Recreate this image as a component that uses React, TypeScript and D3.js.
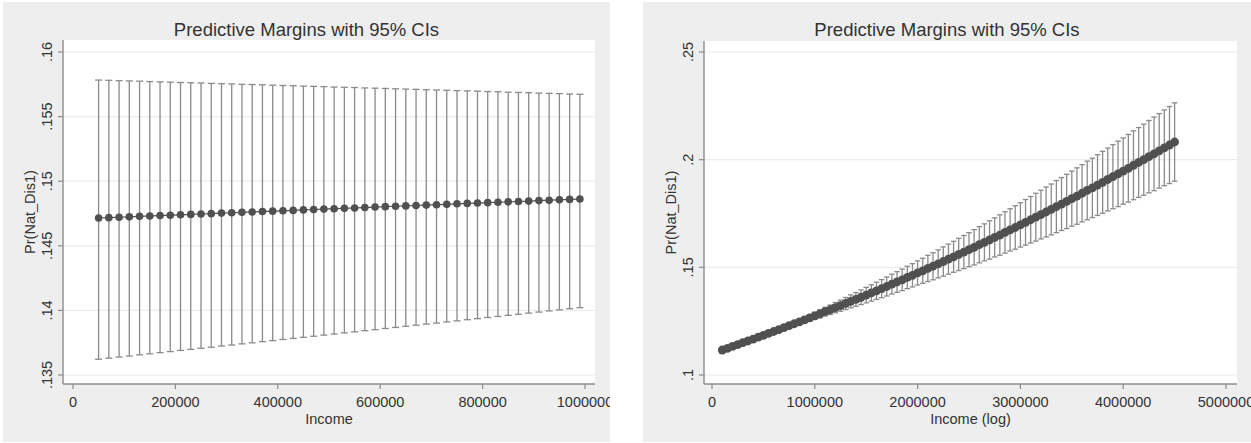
import React from 'react';
import * as d3 from 'd3';

// ---------- Left panel data (Income) ----------
const leftIncome = [
  50000, 70000, 90000, 110000, 130000, 150000, 170000, 190000, 210000, 230000,
  250000, 270000, 290000, 310000, 330000, 350000, 370000, 390000, 410000, 430000,
  450000, 470000, 490000, 510000, 530000, 550000, 570000, 590000, 610000, 630000,
  650000, 670000, 690000, 710000, 730000, 750000, 770000, 790000, 810000, 830000,
  850000, 870000, 890000, 910000, 930000, 950000, 970000, 990000,
];
const leftMargin = [
  0.14715, 0.14718, 0.14721, 0.14724, 0.14728, 0.14731, 0.14734, 0.14737, 0.1474, 0.14743,
  0.14746, 0.14749, 0.14753, 0.14756, 0.14759, 0.14762, 0.14765, 0.14768, 0.14771, 0.14774,
  0.14778, 0.14781, 0.14784, 0.14787, 0.1479, 0.14793, 0.14796, 0.148, 0.14803, 0.14806,
  0.14809, 0.14812, 0.14815, 0.14818, 0.14821, 0.14825, 0.14828, 0.14831, 0.14834, 0.14837,
  0.1484, 0.14843, 0.14846, 0.1485, 0.14853, 0.14856, 0.14859, 0.14862,
];
const leftUpper = [
  0.15783, 0.15781, 0.15778, 0.15776, 0.15774, 0.15771, 0.15769, 0.15767, 0.15764, 0.15762,
  0.1576, 0.15757, 0.15755, 0.15753, 0.1575, 0.15748, 0.15746, 0.15743, 0.15741, 0.15739,
  0.15736, 0.15734, 0.15732, 0.15729, 0.15727, 0.15725, 0.15722, 0.1572, 0.15718, 0.15715,
  0.15713, 0.15711, 0.15708, 0.15706, 0.15704, 0.15701, 0.15699, 0.15697, 0.15694, 0.15692,
  0.15689, 0.15687, 0.15685, 0.15682, 0.1568, 0.15678, 0.15675, 0.15673,
];
const leftLower = [
  0.13622, 0.1363, 0.13639, 0.13647, 0.13656, 0.13664, 0.13673, 0.13681, 0.1369, 0.13698,
  0.13707, 0.13715, 0.13724, 0.13732, 0.13741, 0.13749, 0.13758, 0.13766, 0.13775, 0.13783,
  0.13792, 0.138, 0.13809, 0.13817, 0.13826, 0.13834, 0.13843, 0.13851, 0.1386, 0.13868,
  0.13877, 0.13885, 0.13894, 0.13902, 0.13911, 0.13919, 0.13928, 0.13936, 0.13945, 0.13953,
  0.13962, 0.1397, 0.13979, 0.13987, 0.13996, 0.14004, 0.14013, 0.14021,
];
const leftXTicks = [0, 200000, 400000, 600000, 800000, 1000000];
const leftYTicks = [0.135, 0.14, 0.145, 0.15, 0.155, 0.16];
const leftYTickLabels = ['.135', '.14', '.145', '.15', '.155', '.16'];

// ---------- Right panel data (Income (log)) ----------
const rightIncome = [
  100000, 150000, 200000, 250000, 300000, 350000, 400000, 450000, 500000, 550000,
  600000, 650000, 700000, 750000, 800000, 850000, 900000, 950000, 1000000, 1050000,
  1100000, 1150000, 1200000, 1250000, 1300000, 1350000, 1400000, 1450000, 1500000, 1550000,
  1600000, 1650000, 1700000, 1750000, 1800000, 1850000, 1900000, 1950000, 2000000, 2050000,
  2100000, 2150000, 2200000, 2250000, 2300000, 2350000, 2400000, 2450000, 2500000, 2550000,
  2600000, 2650000, 2700000, 2750000, 2800000, 2850000, 2900000, 2950000, 3000000, 3050000,
  3100000, 3150000, 3200000, 3250000, 3300000, 3350000, 3400000, 3450000, 3500000, 3550000,
  3600000, 3650000, 3700000, 3750000, 3800000, 3850000, 3900000, 3950000, 4000000, 4050000,
  4100000, 4150000, 4200000, 4250000, 4300000, 4350000, 4400000, 4450000, 4500000,
];
const rightMargin = [
  0.1116, 0.1124, 0.1133, 0.1141, 0.115, 0.1158, 0.1167, 0.1176, 0.1184, 0.1193,
  0.1202, 0.1211, 0.122, 0.1229, 0.1238, 0.1247, 0.1256, 0.1265, 0.1275, 0.1284,
  0.1294, 0.1303, 0.1313, 0.1322, 0.1332, 0.1342, 0.1351, 0.1361, 0.1371, 0.1381,
  0.1391, 0.1401, 0.1411, 0.1422, 0.1432, 0.1442, 0.1453, 0.1463, 0.1474, 0.1484,
  0.1495, 0.1505, 0.1516, 0.1527, 0.1538, 0.1549, 0.156, 0.1571, 0.1582, 0.1593,
  0.1605, 0.1616, 0.1627, 0.1639, 0.165, 0.1662, 0.1674, 0.1685, 0.1697, 0.1709,
  0.1721, 0.1733, 0.1745, 0.1757, 0.1769, 0.1782, 0.1794, 0.1806, 0.1819, 0.1831,
  0.1844, 0.1857, 0.1869, 0.1882, 0.1895, 0.1908, 0.1921, 0.1934, 0.1947, 0.196,
  0.1974, 0.1987, 0.2, 0.2014, 0.2027, 0.2041, 0.2055, 0.2068, 0.2082,
];
const rightCIHalf = [
  0.0012, 0.0011, 0.0011, 0.001, 0.001, 0.0009, 0.0009, 0.0008, 0.0008, 0.0008,
  0.0008, 0.0009, 0.001, 0.0011, 0.0012, 0.0013, 0.0014, 0.0015, 0.0017, 0.0019,
  0.002, 0.0022, 0.0024, 0.0026, 0.0028, 0.003, 0.0032, 0.0034, 0.0036, 0.0038,
  0.004, 0.0042, 0.0044, 0.0046, 0.0048, 0.005, 0.0052, 0.0054, 0.0056, 0.0058,
  0.0061, 0.0063, 0.0065, 0.0068, 0.007, 0.0072, 0.0075, 0.0077, 0.0079, 0.0082,
  0.0084, 0.0086, 0.0089, 0.0091, 0.0094, 0.0096, 0.0098, 0.0101, 0.0103, 0.0106,
  0.0108, 0.0111, 0.0113, 0.0116, 0.0118, 0.0121, 0.0123, 0.0126, 0.0128, 0.0131,
  0.0133, 0.0136, 0.0138, 0.0141, 0.0144, 0.0146, 0.0149, 0.0152, 0.0154, 0.0157,
  0.016, 0.0162, 0.0165, 0.0168, 0.0171, 0.0173, 0.0176, 0.0179, 0.0182,
];
const rightXTicks = [0, 1000000, 2000000, 3000000, 4000000, 5000000];
const rightYTicks = [0.1, 0.15, 0.2, 0.25];
const rightYTickLabels = ['.1', '.15', '.2', '.25'];

const titleText = 'Predictive Margins with 95% CIs';
const yTitleText = 'Pr(Nat_Dis1)';
const leftXTitle = 'Income';
const rightXTitle = 'Income (log)';

const FONT = '"Liberation Sans", Arial, Helvetica, sans-serif';

type Pt = { x: number; m: number; lo: number; hi: number };

function Panel(props: {
  id: string;
  box: { x: number; y: number; w: number; h: number };
  plot: { x: number; y: number; w: number; h: number };
  xDomain: [number, number];
  xRange: [number, number];
  yDomain: [number, number];
  yRange: [number, number];
  xTicks: number[];
  yTicks: number[];
  yLabels: string[];
  xTitle: string;
  pts: Pt[];
  capW: number;
  r: number;
}) {
  const { id, box, plot, pts } = props;
  const x = d3.scaleLinear().domain(props.xDomain).range(props.xRange);
  const y = d3.scaleLinear().domain(props.yDomain).range(props.yRange);
  const axisY = plot.y + plot.h;
  const cx = plot.x + plot.w / 2;
  const cy = plot.y + plot.h / 2;
  return (
    <g>
      <defs>
        <clipPath id={id}>
          <rect x={box.x} y={box.y} width={box.w} height={box.h} />
        </clipPath>
      </defs>
      <g clipPath={`url(#${id})`}>
        <rect x={box.x} y={box.y} width={box.w} height={box.h} fill="#eeeeee" />
        <rect x={plot.x} y={plot.y} width={plot.w} height={plot.h} fill="#ffffff" />
        {props.yTicks.map((t) => (
          <line key={'g' + t} x1={plot.x} x2={plot.x + plot.w} y1={y(t)} y2={y(t)} stroke="#ececec" strokeWidth={1.2} />
        ))}
        {/* CI bars */}
        {pts.map((p, i) => (
          <g key={'ci' + i} stroke="#8a8a8a" strokeWidth={1.3} fill="none">
            <line x1={x(p.x)} x2={x(p.x)} y1={y(p.lo)} y2={y(p.hi)} />
            <line x1={x(p.x) - props.capW / 2} x2={x(p.x) + props.capW / 2} y1={y(p.hi)} y2={y(p.hi)} />
            <line x1={x(p.x) - props.capW / 2} x2={x(p.x) + props.capW / 2} y1={y(p.lo)} y2={y(p.lo)} />
          </g>
        ))}
        {/* connecting line + markers */}
        <path
          d={d3.line<Pt>().x((p) => x(p.x)).y((p) => y(p.m))(pts) || ''}
          stroke="#505050"
          strokeWidth={1.2}
          fill="none"
        />
        {pts.map((p, i) => (
          <circle key={'m' + i} cx={x(p.x)} cy={y(p.m)} r={props.r} fill="#505050" />
        ))}
        {/* axes */}
        <line x1={plot.x} x2={plot.x} y1={plot.y} y2={axisY} stroke="#8c8c8c" strokeWidth={1.4} />
        <line x1={plot.x} x2={plot.x + plot.w} y1={axisY} y2={axisY} stroke="#8c8c8c" strokeWidth={1.4} />
        {props.yTicks.map((t, i) => (
          <g key={'yt' + t}>
            <line x1={plot.x - 5} x2={plot.x} y1={y(t)} y2={y(t)} stroke="#8c8c8c" strokeWidth={1.2} />
            <text
              transform={`translate(${plot.x - 16},${y(t)}) rotate(-90)`}
              textAnchor="middle"
              dy="0.36em"
              fontSize={14.5}
              fill="#333"
              fontFamily={FONT}
            >
              {props.yLabels[i]}
            </text>
          </g>
        ))}
        {props.xTicks.map((t) => (
          <g key={'xt' + t}>
            <line x1={x(t)} x2={x(t)} y1={axisY} y2={axisY + 5} stroke="#8c8c8c" strokeWidth={1.2} />
            <text x={x(t)} y={axisY + 23} textAnchor="middle" fontSize={14.5} fill="#333" fontFamily={FONT}>
              {t}
            </text>
          </g>
        ))}
        <text x={cx} y={axisY + 40} textAnchor="middle" fontSize={14.5} fill="#333" fontFamily={FONT}>
          {props.xTitle}
        </text>
        <text
          transform={`translate(${plot.x - 33},${cy}) rotate(-90)`}
          textAnchor="middle"
          dy="0.36em"
          fontSize={14.5}
          fill="#333"
          fontFamily={FONT}
        >
          {yTitleText}
        </text>
        <text x={box.x + box.w / 2} y={36} textAnchor="middle" fontSize={18.5} fill="#333" fontFamily={FONT}>
          {titleText}
        </text>
      </g>
    </g>
  );
}

export default function App() {
  const leftPts: Pt[] = leftIncome.map((v, i) => ({ x: v, m: leftMargin[i], lo: leftLower[i], hi: leftUpper[i] }));
  const rightPts: Pt[] = rightIncome.map((v, i) => ({
    x: v,
    m: rightMargin[i],
    lo: rightMargin[i] - rightCIHalf[i],
    hi: rightMargin[i] + rightCIHalf[i],
  }));
  return (
    <svg
      width={1251}
      height={443}
      style={{ position: 'absolute', left: 0, top: 0, background: '#ffffff' }}
    >
      <Panel
        id="clipL"
        box={{ x: 3, y: 2, w: 607, h: 440 }}
        plot={{ x: 63, y: 40, w: 532, h: 344 }}
        xDomain={[0, 1000000]}
        xRange={[73, 585]}
        yDomain={[0.135, 0.16]}
        yRange={[375, 52]}
        xTicks={leftXTicks}
        yTicks={leftYTicks}
        yLabels={leftYTickLabels}
        xTitle={leftXTitle}
        pts={leftPts}
        capW={7}
        r={3.8}
      />
      <Panel
        id="clipR"
        box={{ x: 643, y: 2, w: 608, h: 440 }}
        plot={{ x: 704, y: 41, w: 533, h: 343 }}
        xDomain={[0, 5000000]}
        xRange={[712, 1226]}
        yDomain={[0.1, 0.25]}
        yRange={[375, 52]}
        xTicks={rightXTicks}
        yTicks={rightYTicks}
        yLabels={rightYTickLabels}
        xTitle={rightXTitle}
        pts={rightPts}
        capW={5.5}
        r={4.4}
      />
    </svg>
  );
}
